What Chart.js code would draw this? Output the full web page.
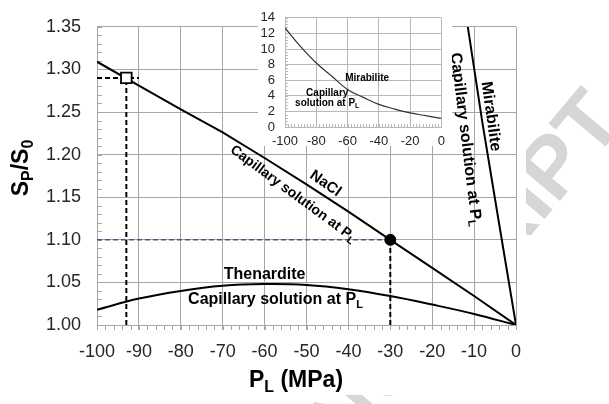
<!DOCTYPE html>
<html>
<head>
<meta charset="utf-8">
<title>SP/S0 against PL</title>
<script src="https://cdn.jsdelivr.net/npm/chart.js@4.4.1/dist/chart.umd.min.js"></script>
<style>
  body { margin: 0; background: #fff; }
  #wrap { position: relative; width: 609px; height: 404px; overflow: hidden; }
  #mainChart { position: absolute; left: 0; top: 0; }
  #insetBox { position: absolute; left: 258px; top: 0; width: 194px; height: 146px; background: #fff; }
</style>
</head>
<body>
<div id="wrap">
  <canvas id="mainChart" width="609" height="404"></canvas>
  <div id="insetBox"><canvas id="insetChart" width="194" height="146"></canvas></div>
</div>
<script>
// ---------------- Data --------------------------------------------------
const pressureMPa     = [-100, -90, -80, -70, -60, -50, -40, -30, -20, -10, 0];
const naclRatio       = [1.309, 1.281, 1.253, 1.226, 1.196, 1.165, 1.133, 1.100, 1.067, 1.034, 1.000];
const thenarditeRatio = [1.018, 1.031, 1.040, 1.046, 1.048, 1.047, 1.042, 1.034, 1.024, 1.013, 1.000];

const mirabilitePressure = [0, -4, -8, -11.5];
const mirabiliteRatio    = [1.000, 1.118, 1.237, 1.350];

const squareMarker    = { x: -93, y: 1.29 };
const squareGuideEndX = -90;
const dotMarker       = { x: -30, y: 1.10 };

// inset : mirabilite over the full range
const insetPressure   = [-100, -90, -80, -70, -60, -50, -40, -30, -20, -10, 0];
const insetMirabilite = [12.7, 10.3, 8.2, 6.5, 4.8, 3.8, 2.9, 2.3, 1.8, 1.45, 1.1];

// axis ranges
const mainX = { min: -100, max: 0, step: 10 };
const mainY = { min: 1.00, max: 1.35, step: 0.05 };
const insetX = { min: -100, max: 0, step: 20 };
const insetY = { min: 0, max: 14, step: 2 };

// ---------------- Style -------------------------------------------------
const FAMILY = "'Liberation Sans', Arial, sans-serif";
const GRID = '#a6a6a6';
const TICK_TEXT = '#262626';
Chart.defaults.font.family = FAMILY;

const toXY = ( xs, ys ) => xs.map( ( x, i ) => ( { x: x, y: ys[i] } ) ) ;

// text with subscripts, centred on (cx, cy), cap-height centred
function drawRich( ctx, parts, size, cx, cy, angle ) {
    const mainFont = 'bold ' + size + 'px ' + FAMILY ;
    const subFont  = 'bold ' + Math.round( size * 0.7 ) + 'px ' + FAMILY ;
    ctx.save() ;
    ctx.translate( cx, cy ) ;
    ctx.rotate( ( angle || 0 ) * Math.PI / 180 ) ;
    ctx.fillStyle = '#000' ;
    ctx.textAlign = 'left' ;
    ctx.textBaseline = 'alphabetic' ;
    let total = 0 ;
    parts.forEach( p => { ctx.font = p[1] ? subFont : mainFont ; total += ctx.measureText( p[0] ).width ; } ) ;
    let x = -total / 2 ;
    const base = size * 0.358 ;
    parts.forEach( p => {
        ctx.font = p[1] ? subFont : mainFont ;
        ctx.fillText( p[0], x, p[1] ? base + size * 0.2 : base ) ;
        x += ctx.measureText( p[0] ).width ;
    } ) ;
    ctx.restore() ;
}

function textPlugin( id, items ) {
    return {
        id: id,
        afterDatasetsDraw( chart ) {
            const { ctx, scales: { x, y } } = chart ;
            items.forEach( it => drawRich( ctx, it.parts, it.size,
                x.getPixelForValue( it.x ), y.getPixelForValue( it.y ), it.angle ) ) ;
        }
    } ;
}

// small tick marks between the major grid lines
function minorTickPlugin( id, cfg ) {
    return {
        id: id,
        beforeDatasetsDraw( chart ) {
            const { ctx, chartArea, scales: { x, y } } = chart ;
            ctx.save() ;
            ctx.strokeStyle = cfg.color ;
            ctx.lineWidth = 1 ;
            ctx.beginPath() ;
            const nx = Math.round( ( x.max - x.min ) / cfg.xStep ) ;
            for ( let i = 0 ; i <= nx ; i++ ) {
                const px = Math.round( x.getPixelForValue( x.min + i * cfg.xStep ) ) + 0.5 ;
                ctx.moveTo( px, chartArea.bottom + cfg.xFrom ) ;
                ctx.lineTo( px, chartArea.bottom + cfg.xTo ) ;
            }
            const ny = Math.round( ( y.max - y.min ) / cfg.yStep ) ;
            for ( let i = 0 ; i <= ny ; i++ ) {
                const py = Math.round( y.getPixelForValue( y.min + i * cfg.yStep ) ) + 0.5 ;
                ctx.moveTo( chartArea.left, py ) ;
                ctx.lineTo( chartArea.left + cfg.yLen, py ) ;
            }
            ctx.stroke() ;
            ctx.restore() ;
        }
    } ;
}

// faint "ACCEPTED MANUSCRIPT" stamp, only visible outside the figure
const watermarkPlugin = {
    id: 'watermark',
    beforeDraw( chart ) {
        const ctx = chart.ctx ;
        ctx.save() ;
        ctx.translate( 626, 122 ) ;
        ctx.rotate( -50 * Math.PI / 180 ) ;
        ctx.font = 'bold 85px ' + FAMILY ;
        ctx.fillStyle = '#d6d6d6' ;
        ctx.textAlign = 'right' ;
        ctx.textBaseline = 'alphabetic' ;
        ctx.fillText( 'ACCEPTED MANUSCRIPT', 0, 0 ) ;
        ctx.restore() ;
        ctx.save() ;
        ctx.fillStyle = '#fff' ;
        ctx.fillRect( 0, 0, 526, 395 ) ;
        ctx.restore() ;
    }
} ;

// axis titles carry subscripts, so they are drawn by hand
const axisTitlePlugin = {
    id: 'axisTitles',
    afterDraw( chart ) {
        const ctx = chart.ctx ;
        drawRich( ctx, [ [ 'S', 0 ], [ 'P', 1 ], [ '/', 0 ], [ 'S', 0 ], [ '0', 1 ] ], 23, 20, 168, -90 ) ;
        drawRich( ctx, [ [ 'P', 0 ], [ 'L', 1 ], [ ' (MPa)', 0 ] ], 23, 296, 379, 0 ) ;
    }
} ;

const sub = 'Capillary solution at P' ;
const mainLabels = [
    { parts: [ [ 'NaCl', 0 ] ], size: 15, x: -45.3, y: 1.167, angle: 35 },
    { parts: [ [ sub, 0 ], [ 'L', 1 ] ], size: 14, x: -53.0, y: 1.155, angle: 36.5 },
    { parts: [ [ 'Thenardite', 0 ] ], size: 16, x: -60.0, y: 1.061, angle: 0 },
    { parts: [ [ sub, 0 ], [ 'L', 1 ] ], size: 16, x: -57.4, y: 1.031, angle: 0 },
    { parts: [ [ 'Mirabilite', 0 ] ], size: 16, x: -5.7, y: 1.245, angle: 82 },
    { parts: [ [ sub, 0 ], [ 'L', 1 ] ], size: 16, x: -11.7, y: 1.218, angle: 83 }
] ;

const insetLabels = [
    { parts: [ [ 'Mirabilite', 0 ] ], size: 10, x: -47.5, y: 6.3 },
    { parts: [ [ 'Capillary', 0 ] ], size: 10, x: -73.0, y: 4.4 },
    { parts: [ [ 'solution at P', 0 ], [ 'L', 1 ] ], size: 10, x: -73.0, y: 3.2 }
] ;

const solid = ( data, extra ) => Object.assign( {
    data: data, showLine: true, borderColor: '#000', borderWidth: 2, pointRadius: 0
}, extra || {} ) ;

// ---------------- Main chart --------------------------------------------
new Chart( document.getElementById( 'mainChart' ), {
    type: 'scatter',
    data: {
        datasets: [
            { data: [ squareMarker ], pointStyle: 'rect', pointRadius: 7.5, pointBackgroundColor: '#fff',
              pointBorderColor: '#000', pointBorderWidth: 1.8 },
            { data: [ dotMarker ], pointStyle: 'circle', pointRadius: 5.5, pointBackgroundColor: '#000',
              pointBorderColor: '#000', pointBorderWidth: 1 },
            solid( toXY( pressureMPa, naclRatio ) ),
            solid( toXY( pressureMPa, thenarditeRatio ), { tension: 0.4 } ),
            solid( toXY( mirabilitePressure, mirabiliteRatio ) ),
            solid( [ { x: squareMarker.x, y: mainY.min }, squareMarker ], { borderDash: [ 5, 3 ] } ),
            solid( [ { x: mainX.min, y: squareMarker.y }, { x: squareGuideEndX, y: squareMarker.y } ], { borderDash: [ 5, 3 ] } ),
            solid( [ { x: dotMarker.x, y: mainY.min }, dotMarker ], { borderDash: [ 5, 3 ] } ),
            solid( [ { x: mainX.min, y: dotMarker.y }, dotMarker ], { borderDash: [ 5, 3 ], borderColor: '#505080', borderWidth: 1.5 } )
        ]
    },
    options: {
        responsive: false,
        animation: false,
        events: [],
        layout: { padding: { left: 0, top: 14, right: 93, bottom: 0 } },
        plugins: { legend: { display: false }, tooltip: { enabled: false } },
        scales: {
            x: {
                type: 'linear', min: mainX.min, max: mainX.max,
                ticks: { stepSize: mainX.step, color: TICK_TEXT, font: { size: 18 }, padding: 11,
                         maxRotation: 0, autoSkip: false },
                grid: { color: GRID, tickColor: GRID, tickLength: 5 },
                border: { color: GRID },
                afterFit: s => { s.height = 79 ; }
            },
            y: {
                type: 'linear', min: mainY.min, max: mainY.max,
                ticks: { stepSize: mainY.step, color: TICK_TEXT, font: { size: 18 }, padding: 16,
                         autoSkip: false, callback: v => v.toFixed( 2 ) },
                grid: { color: GRID, drawTicks: false },
                border: { color: GRID },
                afterFit: s => { s.width = 97 ; }
            }
        }
    },
    plugins: [ watermarkPlugin,
               minorTickPlugin( 'mainMinor', { color: GRID, xStep: 2, xFrom: 0, xTo: 5, yStep: 0.01, yLen: 5 } ),
               textPlugin( 'mainText', mainLabels ),
               axisTitlePlugin ]
} ) ;

// ---------------- Inset chart -------------------------------------------
new Chart( document.getElementById( 'insetChart' ), {
    type: 'scatter',
    data: {
        datasets: [
            { data: toXY( insetPressure, insetMirabilite ), showLine: true, borderColor: '#333',
              borderWidth: 1.2, pointRadius: 0, tension: 0.4 }
        ]
    },
    options: {
        responsive: false,
        animation: false,
        events: [],
        layout: { padding: { left: 0, top: 10, right: 7, bottom: 0 } },
        plugins: { legend: { display: false }, tooltip: { enabled: false } },
        scales: {
            x: {
                type: 'linear', min: insetX.min, max: insetX.max,
                ticks: { stepSize: insetX.step, color: TICK_TEXT, font: { size: 13 }, padding: 7,
                         maxRotation: 0, autoSkip: false },
                grid: { color: '#b8b8b8', drawTicks: false },
                border: { color: '#b8b8b8' },
                afterFit: s => { s.height = 19 ; }
            },
            y: {
                type: 'linear', min: insetY.min, max: insetY.max,
                ticks: { stepSize: insetY.step, color: TICK_TEXT, font: { size: 13 }, padding: 10, autoSkip: false },
                grid: { color: '#b8b8b8', drawTicks: false },
                border: { color: '#b8b8b8' },
                afterFit: s => { s.width = 27 ; }
            }
        }
    },
    plugins: [ minorTickPlugin( 'insetMinor', { color: '#b8b8b8', xStep: 2, xFrom: -3, xTo: 0, yStep: 0.4, yLen: 3 } ),
               textPlugin( 'insetText', insetLabels ) ]
} ) ;
</script>
</body>
</html>
